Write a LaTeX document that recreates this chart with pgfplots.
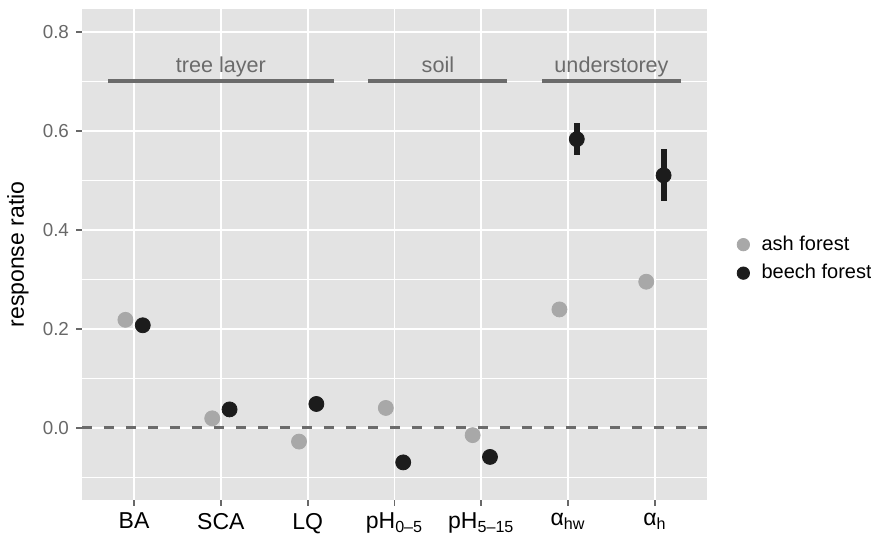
\documentclass[border=0pt]{standalone}
\usepackage{fontspec}
\setmainfont{Liberation Sans}
\usepackage{pgfplots}
\pgfplotsset{compat=1.18}
\usetikzlibrary{calc}

\definecolor{panel}{HTML}{E3E3E3}
\definecolor{ashc}{HTML}{A8A8A8}
\definecolor{beechc}{HTML}{1C1C1C}
\definecolor{grp}{HTML}{6B6B6B}
\definecolor{tickc}{HTML}{686868}

\begin{document}
\begin{tikzpicture}
\begin{axis}[
    scale only axis,
    width=312.5pt, height=245.5pt,
    xmin=0.4, xmax=7.6, ymin=-0.146, ymax=0.846,
    xtick={1,...,7},
    xticklabels={BA, SCA, LQ, pH\textsubscript{0–5}, pH\textsubscript{5–15}, α\textsubscript{hw}, α\textsubscript{h}},
    ytick={0,0.2,0.4,0.6,0.8},
    minor ytick={-0.1,0.1,0.3,0.5,0.7},
    tick pos=left,
    grid=both,
    major grid style={white, line width=0.9pt},
    minor grid style={white, line width=0.45pt},
    axis background/.style={fill=panel},
    axis line style={draw=none},
    tick align=outside,
    tick style={tickc, line width=0.9pt},
    major tick length=3pt,
    minor tick length=0pt,
    /pgf/number format/assume math mode=true,
    yticklabel style={/pgf/number format/fixed, /pgf/number format/fixed zerofill,
        /pgf/number format/precision=1, text=tickc, font=\fontsize{9.4}{11}\selectfont},
    xticklabel style={text=black, font=\fontsize{11.5}{13}\selectfont},
    ylabel={response ratio},
    ylabel style={at={(axis description cs:-0.1024,0.5)}, anchor=center,
        font=\fontsize{11.5}{13}\selectfont},
    legend style={at={(axis description cs:1.038,0.491)}, anchor=west,
        draw=none, fill=none, font=\fontsize{10}{12}\selectfont,
        row sep=1.5pt, column sep=4pt},
    legend cell align=left,
    legend image post style={mark size=3.1pt},
]
% reference line at zero
\addplot[grp, line width=1.5pt, dash pattern=on 5pt off 6pt, forget plot]
    coordinates {(0.4,0) (7.6,0)};

% group brackets
\addplot[grp, line width=2pt, forget plot] coordinates {(0.7,0.7) (3.3,0.7)};
\addplot[grp, line width=2pt, forget plot] coordinates {(3.7,0.7) (5.3,0.7)};
\addplot[grp, line width=2pt, forget plot] coordinates {(5.7,0.7) (7.3,0.7)};
\node[grp, anchor=base, font=\fontsize{10.8}{12}\selectfont] at (axis cs:2,0.718) {tree layer};
\node[grp, anchor=base, font=\fontsize{10.8}{12}\selectfont] at (axis cs:4.5,0.718) {soil};
\node[grp, anchor=base, font=\fontsize{10.8}{12}\selectfont] at (axis cs:6.5,0.718) {understorey};

% ash forest
\addplot[only marks, mark=*, color=ashc, mark size=3.75pt]
    coordinates {(0.9,0.218) (1.9,0.019) (2.9,-0.028) (3.9,0.040) (4.9,-0.015) (5.9,0.239) (6.9,0.295)};
\addlegendentry{ash forest}

% beech forest error bars
\addplot[only marks, mark=none, forget plot,
    error bars/.cd, y dir=both, y explicit, error mark=none,
    error bar style={line width=3pt, beechc}]
    coordinates {(6.1,0.583) += (0,0.033) -= (0,0.033) (7.1,0.510) += (0,0.054) -= (0,0.052)};

\addplot[only marks, mark=*, color=beechc, mark size=3.75pt]
    coordinates {(1.1,0.207) (2.1,0.037) (3.1,0.048) (4.1,-0.070) (5.1,-0.059) (6.1,0.583) (7.1,0.510)};
\addlegendentry{beech forest}
\end{axis}
\pgfresetboundingbox
\path[use as bounding box] ($(current axis.south west)+(-41pt,-17pt)$) rectangle ($(current axis.north east)+(82pt,4.5pt)$);
\end{tikzpicture}
\end{document}
